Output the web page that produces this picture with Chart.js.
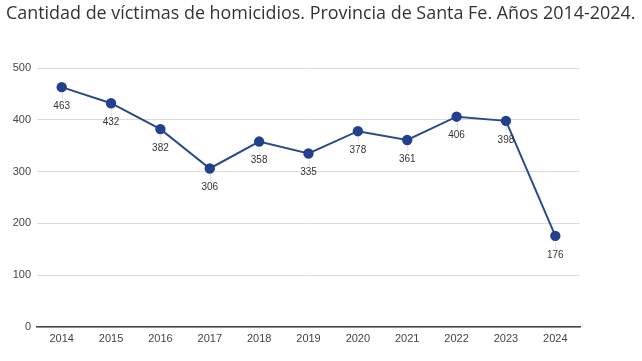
<!DOCTYPE html>
<html>
<head>
<meta charset="utf-8">
<script src="https://cdn.jsdelivr.net/npm/chart.js@4/dist/chart.umd.min.js"></script>
<style>
  html, body { margin: 0; padding: 0; background: #fff; }
  #wrap { position: relative; width: 642px; height: 361px; }
  #title { position: absolute; left: 6px; top: 0px; font-family: "Open Sans", sans-serif; font-size: 16px; color: #333; white-space: nowrap; letter-spacing: 0px; }
  canvas { position: absolute; left: 0; top: 0; }
</style>
</head>
<body>
<div id="wrap">
  <canvas id="c" width="642" height="361"></canvas>
  <div id="title">Cantidad de víctimas de homicidios. Provincia de Santa Fe. Años 2014-2024.</div>
</div>
<script>
const years = ["2014","2015","2016","2017","2018","2019","2020","2021","2022","2023","2024"];
const victims = [463, 432, 382, 306, 358, 335, 378, 361, 406, 398, 176];
const yTicks = [0, 100, 200, 300, 400, 500];

(function(){
  const t = document.getElementById('title');
  const w = t.getBoundingClientRect().width;
  const target = 630;
  t.style.fontSize = (16 * target / w).toFixed(2) + 'px';
})();

const labelPlugin = {
  id: 'valueLabels',
  afterDatasetsDraw(chart) {
    const ctx = chart.ctx;
    const meta = chart.getDatasetMeta(0);
    ctx.save();
    ctx.font = '10px "Liberation Sans", Arial, sans-serif';
    ctx.fillStyle = '#333';
    ctx.textAlign = 'center';
    ctx.textBaseline = 'middle';
    meta.data.forEach((pt, i) => {
      ctx.strokeStyle = 'rgba(200,200,200,0.45)';
      ctx.lineWidth = 1;
      ctx.beginPath();
      ctx.moveTo(Math.round(pt.x) + 0.5, pt.y + 5);
      ctx.lineTo(Math.round(pt.x) + 0.5, pt.y + 13);
      ctx.stroke();
      ctx.fillText(String(victims[i]), pt.x, pt.y + 19);
    });
    ctx.restore();
  }
};

new Chart(document.getElementById('c'), {
  type: 'line',
  data: {
    labels: years,
    datasets: [{
      data: victims,
      borderColor: '#2b4a8c',
      backgroundColor: '#22408e',
      pointBackgroundColor: '#22408e',
      pointBorderColor: '#22408e',
      borderWidth: 2,
      pointRadius: 4.2,
      tension: 0
    }]
  },
  options: {
    responsive: false,
    animation: false,
    layout: { padding: { top: 68, right: 62, bottom: 0, left: 0 } },
    plugins: { legend: { display: false }, tooltip: { enabled: false } },
    scales: {
      x: {
        offset: true,
        grid: { display: false, drawTicks: false },
        border: { display: true, color: '#444', width: 1.5 },
        ticks: { color: '#444', font: { family: '"Liberation Sans", Arial, sans-serif', size: 11 }, padding: 5, maxRotation: 0 },
        afterFit(s) { s.height = 34; }
      },
      y: {
        min: 0, max: 500,
        afterBuildTicks(s) { s.ticks = yTicks.map(v => ({ value: v })); },
        grid: { color: '#dcdcdc', lineWidth: 1, drawTicks: false },
        border: { display: false },
        ticks: { color: '#444', font: { family: '"Liberation Sans", Arial, sans-serif', size: 11 }, padding: 6 },
        afterFit(s) { s.width = 37; }
      }
    }
  },
  plugins: [labelPlugin]
});
</script>
</body>
</html>
